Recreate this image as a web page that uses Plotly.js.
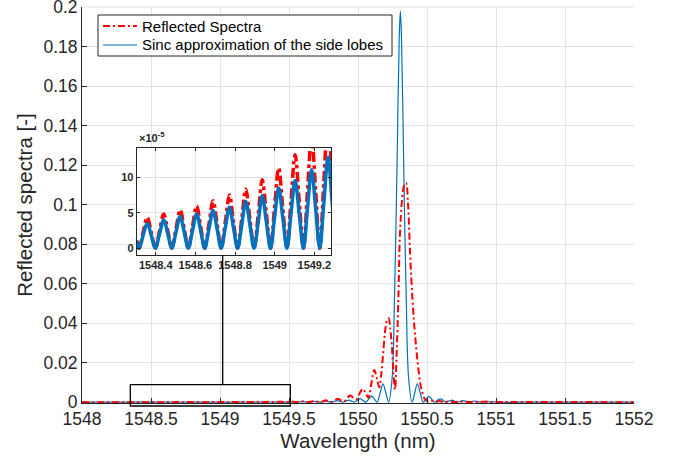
<!DOCTYPE html>
<html>
<head>
<meta charset="utf-8">
<script src="https://cdn.plot.ly/plotly-3.0.1.min.js"></script>
<style>html,body{margin:0;padding:0;background:#fff;}#chart{width:685px;height:461px;}</style>
</head>
<body>
<div id="chart"></div>
<script>
// ---- Data ----
const wavelengthBlue = [
1548.000, 1548.150, 1548.300,
1548.316, 1548.336, 1548.357, 1548.378,
1548.398, 1548.419, 1548.440, 1548.461,
1548.481, 1548.502, 1548.523, 1548.544,
1548.564, 1548.585, 1548.606, 1548.627,
1548.647, 1548.668, 1548.689, 1548.710,
1548.730, 1548.751, 1548.772, 1548.792,
1548.813, 1548.834, 1548.854, 1548.875,
1548.896, 1548.917, 1548.937, 1548.958,
1548.979, 1548.999, 1549.020, 1549.041,
1549.062, 1549.082, 1549.103, 1549.124,
1549.145, 1549.165, 1549.186, 1549.207,
1549.227, 1549.248, 1549.269, 1549.290,
1549.310, 1549.331, 1549.352, 1549.372,
1549.393, 1549.414, 1549.435, 1549.455,
1549.476, 1549.497, 1549.517, 1549.538,
1549.559, 1549.580, 1549.600, 1549.621,
1549.642, 1549.663, 1549.683, 1549.704,
1549.725, 1549.746, 1549.766, 1549.787,
1549.808, 1549.828, 1549.849, 1549.870,
1549.891, 1549.911, 1549.932, 1549.953,
1549.974, 1549.994, 1550.015, 1550.036,
1550.056, 1550.077, 1550.098, 1550.119,
1550.139, 1550.160, 1550.181, 1550.202,
1550.222, 1550.247, 1550.264, 1550.278, 1550.290, 1550.299, 1550.307, 1550.315, 1550.324, 1550.336, 1550.350, 1550.367,
1550.392, 1550.411, 1550.430, 1550.451,
1550.472, 1550.492, 1550.513, 1550.534,
1550.555, 1550.575, 1550.596, 1550.617,
1550.638, 1550.658, 1550.679, 1550.700,
1550.721, 1550.741, 1550.762, 1550.783,
1550.804, 1550.824, 1550.845, 1550.866,
1550.887, 1550.907, 1550.928, 1550.949,
1550.970, 1550.990, 1551.011, 1551.032,
1551.053, 1551.300, 1551.650, 1552.000
];
const reflBlue = [
1.5e-5, 1.5e-5, 1.0e-5,
0, 1.77e-5, 3.54e-5, 1.77e-5,
0, 2.0e-5, 4.0e-5, 2.0e-5,
0, 2.24e-5, 4.47e-5, 2.24e-5,
0, 2.43e-5, 4.85e-5, 2.43e-5,
0, 2.66e-5, 5.32e-5, 2.66e-5,
0, 2.9e-5, 5.8e-5, 2.9e-5,
0, 3.3e-5, 6.6e-5, 3.3e-5,
0, 3.7e-5, 7.4e-5, 3.7e-5,
0, 4.25e-5, 8.5e-5, 4.25e-5,
0, 4.78e-5, 9.56e-5, 4.78e-5,
0, 5.5e-5, 11.07e-5, 5.5e-5,
0, 6.4e-5, 12.87e-5, 6.4e-5,
0, 7.7e-5, 15.5e-5, 7.7e-5,
0, 9.5e-5, 19e-5, 9.5e-5,
0, 12e-5, 24e-5, 12e-5,
0, 15.5e-5, 31e-5, 15.5e-5,
0, 20e-5, 41e-5, 20e-5,
0, 28e-5, 57e-5, 28e-5,
0, 40e-5, 80e-5, 40e-5,
0, 55e-5, 110e-5, 55e-5,
0, 90e-5, 180e-5, 90e-5,
0, 155e-5, 310e-5, 155e-5,
0, 465e-5, 930e-5, 465e-5,
0, 0.012, 0.051, 0.100, 0.152, 0.185, 0.198, 0.185, 0.152, 0.100, 0.051, 0.012,
0, 0.0047, 0.0093, 0.0047,
0, 0.0015, 0.0030, 0.0015,
0, 0.0009, 0.0017, 0.0009,
0, 0.00055, 0.0011, 0.00055,
0, 0.0004, 0.0008, 0.0004,
0, 0.0003, 0.0006, 0.0003,
0, 0.00022, 0.00045, 0.00022,
0, 0.00017, 0.00035, 0.00017,
0, 0.00008, 0.00005, 0.00004
];

const wavelengthRed = [
1548.000, 1548.150, 1548.300,
1548.316, 1548.336, 1548.357, 1548.378,
1548.398, 1548.419, 1548.440, 1548.461,
1548.481, 1548.502, 1548.523, 1548.544,
1548.564, 1548.585, 1548.606, 1548.627,
1548.647, 1548.668, 1548.689, 1548.710,
1548.730, 1548.751, 1548.772, 1548.792,
1548.813, 1548.834, 1548.854, 1548.875,
1548.896, 1548.917, 1548.937, 1548.958,
1548.979, 1548.999, 1549.020, 1549.041,
1549.062, 1549.082, 1549.103, 1549.124,
1549.145, 1549.165, 1549.186, 1549.207,
1549.227, 1549.248, 1549.269, 1549.290,
1549.310, 1549.331, 1549.352, 1549.372,
1549.393, 1549.414, 1549.435, 1549.455,
1549.476, 1549.497, 1549.517, 1549.538,
1549.559, 1549.580, 1549.600, 1549.621,
1549.642, 1549.663, 1549.683, 1549.704,
1549.725, 1549.746, 1549.766, 1549.787,
1549.808, 1549.830, 1549.855, 1549.878, 1549.900, 1549.920, 1549.942, 1549.964, 1549.988,
1550.010, 1550.034, 1550.055, 1550.075, 1550.097, 1550.118, 1550.137, 1550.154, 1550.168, 1550.180,
1550.195, 1550.210, 1550.222, 1550.234, 1550.245, 1550.256, 1550.268, 1550.280, 1550.292, 1550.304,
1550.320, 1550.335, 1550.348, 1550.362, 1550.377, 1550.395, 1550.413, 1550.437, 1550.460, 1550.485,
1550.510, 1550.535, 1550.560, 1550.590, 1550.620, 1550.660, 1550.700, 1550.750, 1550.800, 1550.900,
1551.000, 1551.300, 1551.600, 1552.000
];
const reflRed = [
1.8e-5, 1.8e-5, 1.2e-5,
0, 2.19e-5, 4.38e-5, 2.19e-5,
0, 2.43e-5, 4.85e-5, 2.43e-5,
0, 2.71e-5, 5.42e-5, 2.71e-5,
0, 2.99e-5, 5.98e-5, 2.99e-5,
0, 3.35e-5, 6.69e-5, 3.35e-5,
0, 3.75e-5, 7.5e-5, 3.75e-5,
0, 4.18e-5, 8.35e-5, 4.18e-5,
0, 4.83e-5, 9.66e-5, 4.83e-5,
0, 5.65e-5, 11.3e-5, 5.65e-5,
0, 6.6e-5, 13.2e-5, 6.6e-5,
0, 7.9e-5, 15.8e-5, 7.9e-5,
0, 9.4e-5, 18.8e-5, 9.4e-5,
0, 11.5e-5, 23e-5, 11.5e-5,
0, 14e-5, 28e-5, 14e-5,
0, 17.5e-5, 35e-5, 17.5e-5,
0, 22.5e-5, 45e-5, 22.5e-5,
0, 31e-5, 62e-5, 31e-5,
0, 47e-5, 95e-5, 47e-5,
0.0001, 0.0009, 0.0017, 0.0009, 0.0004, 0.0019, 0.0034, 0.0024, 0.0015,
0.0042, 0.0068, 0.0047, 0.0022, 0.0095, 0.0163, 0.0120, 0.0076, 0.0140, 0.0227,
0.035, 0.0415, 0.0425, 0.037, 0.029, 0.016, 0.0064, 0.025, 0.051, 0.085,
0.103, 0.110, 0.111, 0.101, 0.076, 0.052, 0.0345, 0.017, 0.0065, 0.0015,
0.0003, 0.0008, 0.0002, 0.0006, 0.0001, 0.0004, 0.0001, 0.0003, 0.0001, 0.0002,
0.0001, 0.00005, 0.00005, 0.00003
];

const seriesNames = ['Reflected Spectra', 'Sinc approximation of the side lobes'];
const mainTickValsX = [1548, 1548.5, 1549, 1549.5, 1550, 1550.5, 1551, 1551.5, 1552];
const mainTickTextX = ['1548', '1548.5', '1549', '1549.5', '1550', '1550.5', '1551', '1551.5', '1552'];
const mainTickValsY = [0, 0.02, 0.04, 0.06, 0.08, 0.1, 0.12, 0.14, 0.16, 0.18, 0.2];
const mainTickTextY = ['0', '0.02', '0.04', '0.06', '0.08', '0.1', '0.12', '0.14', '0.16', '0.18', '0.2'];
const insetTickValsX = [1548.4, 1548.6, 1548.8, 1549, 1549.2];
const insetTickTextX = ['1548.4', '1548.6', '1548.8', '1549', '1549.2'];
const insetTickValsY = [0, 5e-5, 10e-5];
const insetTickTextY = ['0', '5', '10'];
const insetRangeX = [1548.304, 1549.284];
const insetRangeY = [-0.95e-5, 14.1e-5];

// ---- Styling ----
const FONT = 'Liberation Sans, Arial, Helvetica, sans-serif';
const TXT = '#262626';
const GRID = '#e3e3e3';
const RED = '#ff0000';
const BLUE = '#0072bd';
const RED_DASH = '7px,3px,2px,3px';

// pixel -> paper helpers for decorations (plot area: x 82..634, y 7..403)
const TOP = 7;
const px = v => (v - 82) / 552;
const py = v => (403 - v) / (403 - TOP);

const traces = [
  {x: wavelengthBlue, y: reflBlue, type: 'scatter', mode: 'lines', name: seriesNames[1], showlegend: false,
   line: {color: BLUE, width: 1.2, shape: 'spline', smoothing: 1}, xaxis: 'x', yaxis: 'y'},
  {x: wavelengthRed, y: reflRed, type: 'scatter', mode: 'lines', name: seriesNames[0], showlegend: false,
   line: {color: RED, width: 2, dash: RED_DASH, shape: 'spline', smoothing: 1}, xaxis: 'x', yaxis: 'y'},
  {x: wavelengthRed, y: reflRed, type: 'scatter', mode: 'lines', showlegend: false,
   line: {color: RED, width: 3.5, dash: '10px,3.5px,3.5px,3.5px', shape: 'spline', smoothing: 1}, xaxis: 'x2', yaxis: 'y2'},
  {x: wavelengthBlue, y: reflBlue, type: 'scatter', mode: 'lines', showlegend: false,
   line: {color: BLUE, width: 3.5, shape: 'spline', smoothing: 1}, xaxis: 'x2', yaxis: 'y2'}
];

const layout = {
  width: 685, height: 461,
  margin: {l: 82, r: 51, t: TOP, b: 58, pad: 0},
  paper_bgcolor: '#ffffff', plot_bgcolor: '#ffffff',
  font: {family: FONT, color: TXT, size: 17},
  showlegend: false,
  xaxis: {domain: [0, 1], range: [1548, 1552], tickvals: mainTickValsX, ticktext: mainTickTextX,
          ticks: 'inside', ticklen: 5, ticklabeloverflow: 'allow',
          tickcolor: TXT, showline: true, linecolor: TXT, linewidth: 1, showgrid: true, gridcolor: GRID,
          zeroline: false, automargin: false, tickfont: {size: 17.5, color: TXT},
          title: {text: 'Wavelength (nm)', font: {size: 20.5, color: TXT}, standoff: 5}},
  yaxis: {domain: [0, 1], range: [-0.0004, 0.2001], tickvals: mainTickValsY, ticktext: mainTickTextY,
          ticks: 'inside', ticklen: 5, ticklabeloverflow: 'allow',
          tickcolor: TXT, showline: true, linecolor: TXT, linewidth: 1, showgrid: true, gridcolor: GRID,
          zeroline: false, automargin: false, tickfont: {size: 17.5, color: TXT},
          title: {text: 'Reflected spectra [-]', font: {size: 20.5, color: TXT}, standoff: 5}},
  xaxis2: {domain: [px(136.7), px(331)], anchor: 'y2', range: insetRangeX, tickvals: insetTickValsX,
           ticktext: insetTickTextX, ticks: 'inside', ticklen: 3, tickcolor: TXT, showline: true,
           linecolor: TXT, linewidth: 1, mirror: 'ticks', showgrid: true, gridcolor: GRID, zeroline: false,
           automargin: false, tickfont: {size: 11, color: TXT, weight: 'bold'}},
  yaxis2: {domain: [py(255), py(148.3)], anchor: 'x2', range: insetRangeY, tickvals: insetTickValsY,
           ticktext: insetTickTextY, ticks: 'inside', ticklen: 3, tickcolor: TXT, showline: true,
           linecolor: TXT, linewidth: 1, mirror: 'ticks', showgrid: true, gridcolor: GRID, zeroline: false,
           automargin: false, tickfont: {size: 11, color: TXT, weight: 'bold'}},
  shapes: [
    {type: 'rect', xref: 'x2', yref: 'y2', x0: insetRangeX[0], x1: insetRangeX[1], y0: insetRangeY[0], y1: insetRangeY[1],
     fillcolor: '#ffffff', line: {width: 0}, layer: 'below'},
    {type: 'line', xref: 'paper', yref: 'paper', x0: 0, x1: 1, y0: 1, y1: 1,
     line: {color: GRID, width: 1}, layer: 'below'},
    {type: 'rect', xref: 'paper', yref: 'paper', x0: px(130.3), x1: px(290.3), y0: py(406), y1: py(384.7),
     line: {color: '#000', width: 1.3}, fillcolor: 'rgba(0,0,0,0)', layer: 'above'},
    {type: 'line', xref: 'paper', yref: 'paper', x0: px(222.7), x1: px(222.7), y0: py(384.7), y1: py(255),
     line: {color: '#000', width: 1.3}, layer: 'above'},
    // legend box and samples
    {type: 'rect', xref: 'paper', yref: 'paper', x0: px(98), x1: px(392), y0: py(56), y1: py(15),
     fillcolor: '#ffffff', line: {color: TXT, width: 1}, layer: 'above'},
    {type: 'line', xref: 'paper', yref: 'paper', x0: px(103), x1: px(137), y0: py(26), y1: py(26),
     line: {color: RED, width: 2, dash: RED_DASH}, layer: 'above'},
    {type: 'line', xref: 'paper', yref: 'paper', x0: px(103), x1: px(137), y0: py(45), y1: py(45),
     line: {color: BLUE, width: 1.2}, layer: 'above'}
  ],
  annotations: [
    {xref: 'paper', yref: 'paper', x: px(137), y: py(146), xanchor: 'left', yanchor: 'bottom', showarrow: false,
     text: '×10<sup>-5</sup>', font: {family: FONT, size: 11, color: TXT, weight: 'bold'}},
    {xref: 'paper', yref: 'paper', x: px(140), y: py(26), xanchor: 'left', yanchor: 'middle', showarrow: false,
     text: seriesNames[0], font: {family: FONT, size: 15, color: '#000'}},
    {xref: 'paper', yref: 'paper', x: px(140), y: py(45), xanchor: 'left', yanchor: 'middle', showarrow: false,
     text: seriesNames[1], font: {family: FONT, size: 15, color: '#000'}}
  ]
};

Plotly.newPlot('chart', traces, layout, {displayModeBar: false, staticPlot: true});
</script>
</body>
</html>
